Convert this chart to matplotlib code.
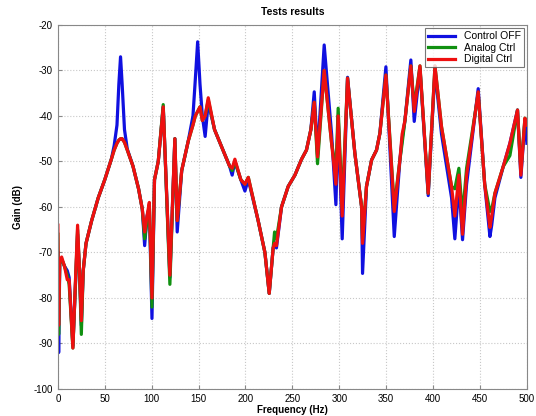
import numpy as np
from matplotlib import pyplot as plt

plt.rcParams['font.family'] = ['Liberation Sans', 'DejaVu Sans']
plt.rcParams['axes.unicode_minus'] = False

# breakpoints (Hz, dB)
freq = [0, 0.8, 2, 4, 7, 10, 12, 16, 21, 23, 25, 27, 30, 36, 43, 50, 57, 60, 63, 65,
        66.8, 68.5, 71, 74, 80, 86, 90, 92.5, 95, 97.5, 100.3, 103, 107, 112.3, 119.4,
        124.7, 127.2, 132, 139, 144, 146.5, 149, 151.5, 154, 157, 160.3, 167, 178, 183,
        185.8, 188.7, 195, 199.4, 203, 213.5, 220.7, 225.3, 229.5, 231, 233, 238.4, 245.5,
        252.7, 259.8, 265, 269.7, 273.3, 276.8, 283.9, 291.8, 296.4, 298.8, 303.1, 308.8,
        316.6, 323.8, 324.8, 329, 334.4, 339.7, 343.3, 349.7, 358.6, 364.6, 367, 370, 376.3,
        379.9, 386, 394.8, 402, 409, 419.7, 423.2, 427.5, 431.4, 435.7, 448.1, 455, 460.6,
        462.5, 465.9, 474.8, 481.9, 490, 493.6, 497.9, 500]

control_off = [-70, -92, -72, -71.5, -73, -74, -75.5, -90.5, -66, -74, -86, -74, -68, -63, -58,
               -54, -49.5, -46.5, -42, -33, -27, -33, -43, -47.3, -51, -56, -60.5, -68.5, -62,
               -60, -84.5, -54, -50, -38, -75.5, -45, -65.5, -52, -45.5, -40, -32, -23.7, -33,
               -40, -44.5, -37, -43, -48.5, -51, -53, -50, -54, -56.5, -54, -63, -70, -79, -69,
               -68, -69, -60, -55.5, -53, -49.5, -47.5, -43, -34.7, -48.5, -24.4, -44, -59.5,
               -40, -67, -31.5, -48.2, -60, -74.6, -55.5, -49.7, -47.5, -43.8, -29.2, -66.5,
               -49.7, -45, -41, -27.7, -41.2, -29.5, -57.5, -30, -44, -58, -67, -55, -67.2, -55,
               -34, -55, -66.5, -64, -58, -51.1, -46, -38.7, -53.5, -41, -46]

analog_ctrl = [-66, -88, -72, -71.5, -73, -75, -77, -91, -65, -74, -88, -74, -68, -63, -58,
               -54, -49.5, -47.5, -46, -45.3, -45, -45, -45.8, -47.5, -51, -56, -60.5, -67, -63,
               -59.5, -82, -54, -50, -37.5, -77, -45, -63, -52, -45.5, -42, -40, -39, -38, -41,
               -40, -36.5, -43, -48.5, -51, -52, -50, -54, -55, -53.5, -63, -70, -79, -69, -65.5,
               -67, -60, -55.5, -53, -49.5, -47.5, -43, -37, -50.5, -30, -46, -52, -38.3, -60,
               -31.7, -48.2, -60, -67, -55.5, -49.7, -47.5, -43.8, -31, -60, -49.7, -46, -41,
               -29, -38, -29, -57, -29, -42.4, -55.5, -56, -51.5, -62, -51.5, -35, -55, -61,
               -60.5, -57, -51.1, -48.7, -38.7, -52, -40.5, -41]

digital_ctrl = [-64, -86, -72, -71, -73, -76, -76, -91, -64, -74, -85, -74, -68, -63, -58,
                -54, -49.5, -47.5, -46, -45.3, -45, -45, -45.8, -47.5, -51, -56, -60.5, -65.5,
                -62, -59, -80, -54, -50, -38, -75, -45, -63, -52, -45.5, -42, -40, -39, -38, -41,
                -40, -36, -43, -48.5, -51, -51.5, -49.5, -54, -55, -53.5, -63, -70, -79, -69,
                -68, -68.5, -60, -55.5, -53, -49.5, -47.5, -43, -37, -49, -30, -46, -55, -40,
                -62, -31.7, -48.2, -60, -68, -55.5, -49.7, -47.5, -43.8, -31, -61, -49.7, -44,
                -41, -29, -39, -29, -57, -29, -42.4, -55.5, -62, -53, -66, -53, -34.7, -55,
                -64.5, -62, -57, -51.1, -46, -38.7, -53, -40.5, -42]

series_names = ['Control OFF', 'Analog Ctrl', 'Digital Ctrl']
series_colors = ['#1010e0', '#109010', '#ee1010']

fig = plt.figure(figsize=(5.36, 4.16), dpi=100)
ax = fig.add_axes([0.108, 0.065, 0.875, 0.875])

for vals, name, col in zip([control_off, analog_ctrl, digital_ctrl], series_names, series_colors):
    ax.plot(freq, vals, color=col, lw=2.3, label=name)

ax.set_xlim(0, 500)
ax.set_ylim(-100, -20)
ax.set_xticks(np.arange(0, 501, 50))
ax.set_yticks(np.arange(-100, -19, 10))
ax.tick_params(labelsize=7, direction='in', length=3, color='#888888')
ax.grid(True, color='#c8c8c8', linestyle=':', linewidth=0.8)
for sp in ax.spines.values():
    sp.set_color('#888888')

ax.set_title('Tests results', fontsize=7.5, fontweight='bold', pad=7)
ax.set_xlabel('Frequency (Hz)', fontsize=7, fontweight='bold', labelpad=1)
ax.set_ylabel('Gain (dB)', fontsize=7, fontweight='bold', labelpad=8)

leg = ax.legend(loc='upper right', fontsize=7.5, frameon=True, fancybox=False,
                borderaxespad=0.3, handlelength=2.6, labelspacing=0.15, borderpad=0.3)
leg.get_frame().set_edgecolor('#555555')
leg.get_frame().set_linewidth(0.8)

fig.savefig('out.png', dpi=100)
